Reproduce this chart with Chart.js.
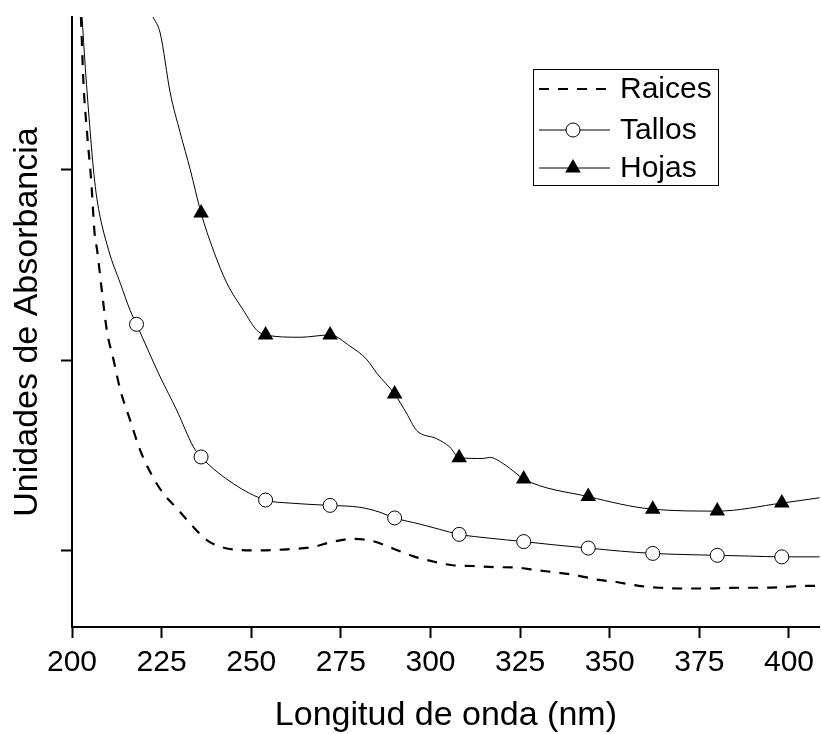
<!DOCTYPE html>
<html lang="es">
<head>
    <meta charset="UTF-8">
    <title>Unidades de Absorbancia</title>
    <script src="https://cdn.jsdelivr.net/npm/chart.js"></script>
    <style>
        body { margin: 0; background: #fff; }
        canvas { display: block; }
    </style>
</head>
<body>
    <canvas id="absChart" width="821" height="734"></canvas>
    <script>
        // Series names and ticks
        const seriesNames = ['Raices', 'Tallos', 'Hojas'];
        const xTicks = [200, 225, 250, 275, 300, 325, 350, 375, 400];
        const yTicks = [0.5, 1.0, 1.5];

        // Raices (dashed)
        const raicesX = [202.5, 203.2, 204.2, 205.4, 206.3, 207.0, 208.4, 209.7, 211.6, 213.5, 216.2, 219.0, 222.3, 225.4, 229.2, 233.4, 237.6, 243.2, 251.1, 258.6, 267.2, 272.5, 278.1, 283.6, 289.5, 295.1, 300.6, 306.2, 311.8, 317.9, 324.0, 329.6, 335.2, 340.5, 346.0, 351.9, 358.0, 363.9, 369.7, 375.9, 381.4, 387.3, 393.4, 399.0, 404.8, 408.6];
        const raicesY = [1.900, 1.727, 1.596, 1.465, 1.333, 1.289, 1.176, 1.079, 1.000, 0.921, 0.843, 0.764, 0.698, 0.651, 0.612, 0.567, 0.528, 0.506, 0.501, 0.503, 0.510, 0.523, 0.531, 0.526, 0.506, 0.486, 0.472, 0.462, 0.460, 0.457, 0.456, 0.449, 0.443, 0.436, 0.425, 0.418, 0.408, 0.403, 0.401, 0.401, 0.402, 0.403, 0.403, 0.405, 0.408, 0.408];

        // Tallos (circles)
        const tallosX = [202.8, 203.7, 205.1, 206.0, 207.0, 210.2, 213.5, 216.2, 218, 224.6, 229.2, 233.9, 236, 245.0, 254, 260.8, 272, 280.3, 285.9, 290, 297.0, 302.6, 308, 316.5, 326, 335, 344, 353, 362, 371, 380, 389, 398, 408.6];
        const tallosY = [1.900, 1.769, 1.596, 1.499, 1.420, 1.289, 1.201, 1.131, 1.094, 0.956, 0.869, 0.772, 0.746, 0.676, 0.633, 0.625, 0.619, 0.614, 0.601, 0.586, 0.570, 0.556, 0.543, 0.533, 0.524, 0.515, 0.507, 0.499, 0.493, 0.490, 0.488, 0.486, 0.484, 0.484];
        const tallosMarks = [218, 236, 254, 272, 290, 308, 326, 344, 362, 380, 398];

        // Hojas (triangles)
        const hojasX = [222.6, 224.6, 227.4, 230.2, 233.0, 236, 239.4, 243.2, 247.8, 251.5, 254, 263.6, 272, 277.5, 282.2, 285.0, 290, 293.3, 296.1, 301.7, 305.4, 308, 314.7, 316.5, 320.2, 323.9, 326, 344, 362, 380, 398, 408.6];
        const hojasY = [1.900, 1.858, 1.701, 1.596, 1.499, 1.386, 1.289, 1.202, 1.131, 1.079, 1.066, 1.060, 1.066, 1.037, 1.002, 0.966, 0.911, 0.861, 0.816, 0.794, 0.772, 0.744, 0.742, 0.745, 0.729, 0.703, 0.688, 0.642, 0.609, 0.604, 0.625, 0.639];
        const hojasMarks = [236, 254, 272, 290, 308, 326, 344, 362, 380, 398];

        const FONT = '"Liberation Sans", Arial, sans-serif';

        function toPoints(xs, ys) {
            return xs.map((x, i) => ({ x: x, y: ys[i] }));
        }

        // Legend box inside the plot (top right)
        const legendBox = {
            id: 'legendBox',
            afterDraw(chart) {
                const c = chart.ctx;
                c.save();
                c.strokeStyle = '#000';
                c.lineWidth = 1;
                c.strokeRect(533.5, 69.5, 185, 116);
                c.font = '30px ' + FONT;
                c.textBaseline = 'middle';
                const rows = [89, 130, 168];

                // Raices
                c.beginPath();
                c.setLineDash([10, 9]);
                c.lineWidth = 2.2;
                c.moveTo(539, rows[0]);
                c.lineTo(609, rows[0]);
                c.stroke();
                c.setLineDash([]);

                // Tallos
                c.lineWidth = 1;
                c.beginPath();
                c.moveTo(539, rows[1]);
                c.lineTo(610, rows[1]);
                c.stroke();
                c.beginPath();
                c.arc(573, rows[1], 7, 0, Math.PI * 2);
                c.fillStyle = '#fff';
                c.fill();
                c.stroke();

                // Hojas
                c.beginPath();
                c.moveTo(539, rows[2]);
                c.lineTo(610, rows[2]);
                c.stroke();
                c.fillStyle = '#000';
                c.beginPath();
                c.moveTo(573, rows[2] - 9);
                c.lineTo(573 + 7.8, rows[2] + 4.5);
                c.lineTo(573 - 7.8, rows[2] + 4.5);
                c.closePath();
                c.fill();

                seriesNames.forEach((name, i) => c.fillText(name, 620, rows[i] + 1));
                c.restore();
            }
        };

        const ctx = document.getElementById('absChart').getContext('2d');
        const absChart = new Chart(ctx, {
            type: 'line',
            data: {
                datasets: [
                    {
                        label: seriesNames[0],
                        data: toPoints(raicesX, raicesY),
                        borderColor: '#000',
                        borderWidth: 2.2,
                        borderDash: [10, 9],
                        pointRadius: 0,
                        cubicInterpolationMode: 'monotone'
                    },
                    {
                        label: seriesNames[1],
                        data: toPoints(tallosX, tallosY),
                        borderColor: '#000',
                        borderWidth: 1,
                        pointBackgroundColor: '#fff',
                        pointBorderColor: '#000',
                        pointBorderWidth: 1,
                        pointStyle: 'circle',
                        pointRadius: c => tallosMarks.includes(c.raw.x) ? 7 : 0,
                        cubicInterpolationMode: 'monotone'
                    },
                    {
                        label: seriesNames[2],
                        data: toPoints(hojasX, hojasY),
                        borderColor: '#000',
                        borderWidth: 1,
                        pointBackgroundColor: '#000',
                        pointBorderColor: '#000',
                        pointBorderWidth: 0,
                        pointStyle: 'triangle',
                        pointRadius: c => hojasMarks.includes(c.raw.x) ? 9 : 0,
                        cubicInterpolationMode: 'monotone'
                    }
                ]
            },
            options: {
                responsive: false,
                animation: false,
                devicePixelRatio: 1,
                events: [],
                layout: { padding: { top: 17, left: 0, right: 0, bottom: 0 } },
                plugins: {
                    legend: { display: false },
                    tooltip: { enabled: false }
                },
                scales: {
                    x: {
                        type: 'linear',
                        min: 200,
                        max: 408.6,
                        afterFit: s => { s.height = 107; },
                        afterBuildTicks: s => { s.ticks = xTicks.map(v => ({ value: v })); },
                        border: { color: '#000', width: 2 },
                        grid: { drawOnChartArea: false, drawTicks: true, tickLength: 11, color: '#000', tickWidth: 2 },
                        ticks: {
                            color: '#000',
                            font: { family: FONT, size: 30 },
                            padding: 7,
                            maxRotation: 0,
                            callback: v => v
                        },
                        title: {
                            display: true,
                            text: 'Longitud de onda (nm)',
                            color: '#000',
                            font: { family: FONT, size: 34, lineHeight: 1 },
                            padding: { top: 0, bottom: 1 }
                        }
                    },
                    y: {
                        type: 'linear',
                        min: 0.3,
                        max: 1.9,
                        afterFit: s => { s.width = 72; },
                        afterBuildTicks: s => { s.ticks = yTicks.map(v => ({ value: v })); },
                        border: { color: '#000', width: 2 },
                        grid: { drawOnChartArea: false, drawTicks: true, tickLength: 11, color: '#000', tickWidth: 2 },
                        ticks: { display: false },
                        title: {
                            display: true,
                            text: 'Unidades de Absorbancia',
                            color: '#000',
                            font: { family: FONT, size: 34, lineHeight: 1 },
                            padding: { top: 11, bottom: 0 }
                        }
                    }
                }
            },
            plugins: [legendBox]
        });
    </script>
</body>
</html>
